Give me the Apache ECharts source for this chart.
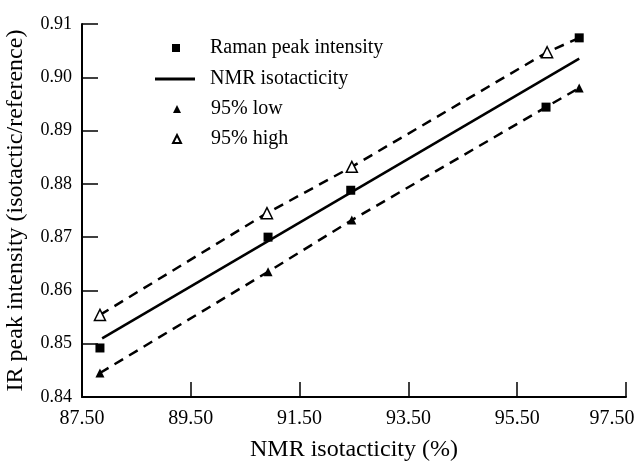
<!DOCTYPE html>
<html>
<head>
<meta charset="utf-8">
<script src="https://cdn.jsdelivr.net/npm/echarts@6/dist/echarts.min.js"></script>
<style>
  html, body { margin: 0; padding: 0; background: #fff; }
  #chart { width: 640px; height: 464px; }
</style>
</head>
<body>
<div id="chart"></div>
<script>
// values
const xTicks = [87.5, 89.5, 91.5, 93.5, 95.5, 97.5];
const yTicks = [0.84, 0.85, 0.86, 0.87, 0.88, 0.89, 0.90, 0.91];

const ramanX = [87.83, 90.92, 92.44, 96.03, 96.64];
const ramanY = [0.8492, 0.8700, 0.8788, 0.8944, 0.9074];

const nmrX = [87.87, 96.64];
const nmrY = [0.8510, 0.9035];

const lowX = [87.83, 90.92, 92.46, 96.64];
const lowY = [0.8445, 0.8635, 0.8732, 0.8980];

const highX = [87.83, 90.90, 92.46, 96.05];
const highY = [0.8554, 0.8745, 0.8832, 0.9047];

// dashed confidence bands
const lowBandX = [87.83, 90.92, 92.46, 96.03, 96.64];
const lowBandY = [0.8445, 0.8635, 0.8732, 0.8944, 0.8980];
const highBandX = [87.83, 90.90, 92.46, 96.05, 96.64];
const highBandY = [0.8554, 0.8745, 0.8832, 0.9047, 0.9074];

const pairs = (xs, ys) => xs.map((x, i) => [x, ys[i]]);
const serif = '"Liberation Serif", "DejaVu Serif", serif';
const legendText = { fontFamily: serif, fontSize: 20, color: '#000' };

let chart = echarts.init(document.getElementById('chart'), null, { renderer: 'canvas' });

let option = {
  backgroundColor: '#fff',
  animation: false,
  grid: { left: 82, right: 14, top: 24, bottom: 67, outerBoundsMode: 'none' },
  // three legend blocks so marker icons stay small and the line icon stays long
  legend: [
    {
      orient: 'vertical', left: 167, top: 33,
      itemWidth: 8, itemHeight: 8,
      textStyle: Object.assign({ padding: [0, 0, 0, 25] }, legendText),
      data: [{ name: 'Raman peak intensity', icon: 'rect' }]
    },
    {
      orient: 'vertical', left: 150, top: 64,
      itemWidth: 40, itemHeight: 3,
      textStyle: Object.assign({ padding: [0, 0, 0, 10] }, legendText),
      data: [{ name: 'NMR isotacticity', icon: 'rect', itemStyle: { color: '#000' } }]
    },
    {
      orient: 'vertical', left: 167, top: 94,
      itemWidth: 8, itemHeight: 8, itemGap: 10,
      textStyle: Object.assign({ padding: [0, 0, 0, 25] }, legendText),
      data: [
        { name: '95% low', icon: 'triangle' },
        { name: '95% high', icon: 'triangle' }
      ]
    }
  ],
  xAxis: {
    type: 'value',
    min: 87.5,
    max: 97.5,
    name: 'NMR isotacticity (%)',
    nameLocation: 'middle',
    nameGap: 41,
    nameTextStyle: { fontFamily: serif, fontSize: 24, color: '#000' },
    axisLine: { lineStyle: { color: '#000', width: 2 } },
    axisTick: { inside: true, length: 15, customValues: xTicks, lineStyle: { color: '#000', width: 1.5 } },
    axisLabel: {
      customValues: xTicks,
      margin: 12,
      fontFamily: serif,
      fontSize: 20,
      color: '#000',
      // last label sits a bit left of its tick, as in the print
      formatter: v => v === 97.5 ? '{last|' + v.toFixed(2) + '}' : v.toFixed(2),
      rich: {
        last: { fontFamily: serif, fontSize: 20, color: '#000', padding: [0, 28, 0, 0] }
      }
    },
    splitLine: { show: false }
  },
  yAxis: {
    type: 'value',
    min: 0.84,
    max: 0.91,
    name: 'IR peak intensity (isotactic/reference)',
    nameLocation: 'middle',
    nameGap: 54,
    nameTextStyle: { fontFamily: serif, fontSize: 24, color: '#000' },
    axisLine: { show: true, lineStyle: { color: '#000', width: 2 } },
    axisTick: { show: true, inside: true, length: 16, customValues: yTicks, lineStyle: { color: '#000', width: 1.5 } },
    axisLabel: {
      customValues: yTicks,
      margin: 10,
      fontFamily: serif,
      fontSize: 18,
      color: '#000',
      formatter: v => v.toFixed(2)
    },
    splitLine: { show: false }
  },
  series: [
    {
      name: 'upper band',
      type: 'line',
      symbol: 'none',
      data: pairs(highBandX, highBandY),
      lineStyle: { color: '#000', width: 2.5, type: [10, 7] },
      z: 1
    },
    {
      name: 'lower band',
      type: 'line',
      symbol: 'none',
      data: pairs(lowBandX, lowBandY),
      lineStyle: { color: '#000', width: 2.5, type: [10, 7] },
      z: 1
    },
    {
      name: 'NMR isotacticity',
      type: 'line',
      symbol: 'none',
      data: pairs(nmrX, nmrY),
      itemStyle: { color: '#000' },
      lineStyle: { color: '#000', width: 2.5 },
      z: 2
    },
    {
      name: 'Raman peak intensity',
      type: 'scatter',
      symbol: 'rect',
      symbolSize: 9,
      data: pairs(ramanX, ramanY),
      itemStyle: { color: '#000', opacity: 1 },
      z: 3
    },
    {
      name: '95% low',
      type: 'scatter',
      symbol: 'triangle',
      symbolSize: 9,
      data: pairs(lowX, lowY),
      itemStyle: { color: '#000', opacity: 1 },
      z: 3
    },
    {
      name: '95% high',
      type: 'scatter',
      symbol: 'triangle',
      symbolSize: 11,
      data: pairs(highX, highY),
      itemStyle: { color: '#fff', borderColor: '#000', borderWidth: 1.5, opacity: 1 },
      z: 3
    }
  ]
};

chart.setOption(option);
window.addEventListener('resize', function () {
  chart.resize();
});
</script>
</body>
</html>
